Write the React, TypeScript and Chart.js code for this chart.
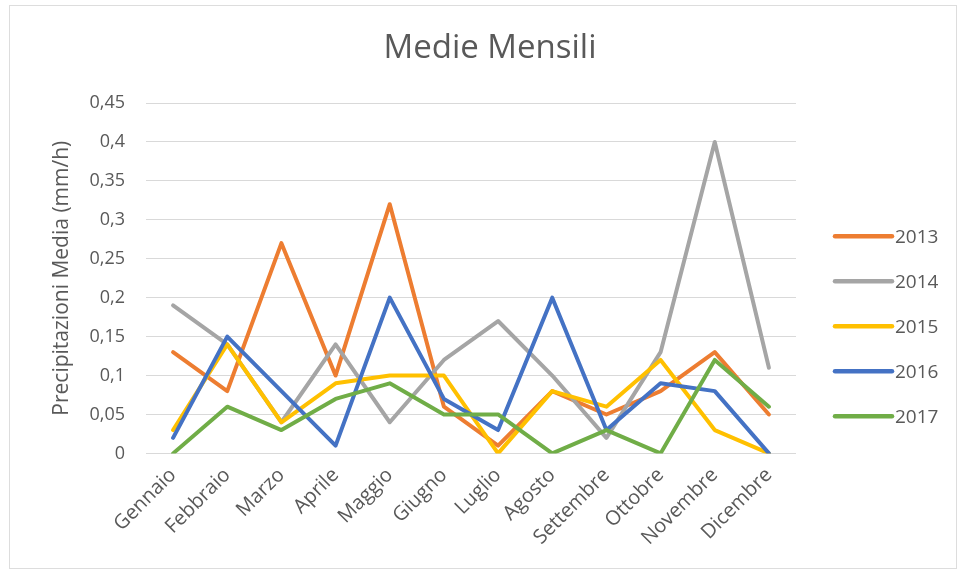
import React, { useEffect, useRef } from "react";
import { Chart, registerables } from "chart.js";

Chart.register(...registerables);

const months = [
  "Gennaio", "Febbraio", "Marzo", "Aprile", "Maggio", "Giugno",
  "Luglio", "Agosto", "Settembre", "Ottobre", "Novembre", "Dicembre",
];

const years = ["2013", "2014", "2015", "2016", "2017"];

const values2013 = [0.13, 0.08, 0.27, 0.10, 0.32, 0.06, 0.01, 0.08, 0.05, 0.08, 0.13, 0.05];
const values2014 = [0.19, 0.14, 0.04, 0.14, 0.04, 0.12, 0.17, 0.10, 0.02, 0.13, 0.40, 0.11];
const values2015 = [0.03, 0.14, 0.04, 0.09, 0.10, 0.10, 0.00, 0.08, 0.06, 0.12, 0.03, 0.00];
const values2016 = [0.02, 0.15, 0.08, 0.01, 0.20, 0.07, 0.03, 0.20, 0.03, 0.09, 0.08, 0.00];
const values2017 = [0.00, 0.06, 0.03, 0.07, 0.09, 0.05, 0.05, 0.00, 0.03, 0.00, 0.12, 0.06];

const seriesValues = [values2013, values2014, values2015, values2016, values2017];
const seriesColors = ["#ED7D31", "#A5A5A5", "#FFC000", "#4472C4", "#70AD47"];

const yMin = 0;
const yMax = 0.45;
const yStep = 0.05;

const titleText = "Medie Mensili";
const yTitleText = "Precipitazioni Media (mm/h)";

const FONT = "'Open Sans', 'Noto Sans', sans-serif";
const TEXT_COLOR = "#595959";

const formatTick = (v: number) => {
  const s = Number(v).toFixed(2).replace(/0+$/, "").replace(/\.$/, "");
  return s.replace(".", ",");
};

const titleAndLegend = {
  id: "titleAndLegend",
  afterDraw(chart: any) {
    const ctx = chart.ctx;
    const area = chart.chartArea;
    ctx.save();
    // title
    ctx.font = `33px ${FONT}`;
    ctx.fillStyle = TEXT_COLOR;
    ctx.textAlign = "center";
    ctx.textBaseline = "middle";
    ctx.fillText(titleText, chart.width / 2 + 10, 49);

    // legend
    const n = chart.data.datasets.length;
    const spacing = 45;
    const lineLen = 57;
    const x0 = area.right + 39;
    const centerY = (area.top + area.bottom) / 2 + 48;
    ctx.font = `19px ${FONT}`;
    ctx.textAlign = "left";
    chart.data.datasets.forEach((ds: any, i: number) => {
      const y = centerY + (i - (n - 1) / 2) * spacing;
      ctx.strokeStyle = ds.borderColor;
      ctx.lineWidth = 4.5;
      ctx.lineCap = "round";
      ctx.beginPath();
      ctx.moveTo(x0, y);
      ctx.lineTo(x0 + lineLen, y);
      ctx.stroke();
      ctx.fillStyle = TEXT_COLOR;
      ctx.fillText(ds.label, x0 + lineLen + 3, y + 1);
    });
    ctx.restore();
  },
};

export default function App() {
  const canvasRef = useRef<HTMLCanvasElement | null>(null);

  useEffect(() => {
    if (!canvasRef.current) return;
    const chart = new Chart(canvasRef.current, {
      type: "line",
      data: {
        labels: months,
        datasets: years.map((y, i) => ({
          label: y,
          data: seriesValues[i],
          borderColor: seriesColors[i],
          backgroundColor: seriesColors[i],
          borderWidth: 4,
          pointRadius: 0,
          pointHoverRadius: 0,
          tension: 0,
          fill: false,
          borderJoinStyle: "round" as const,
          borderCapStyle: "round" as const,
          order: years.length - i,
        })),
      },
      options: {
        responsive: false,
        animation: false,
        devicePixelRatio: 1,
        layout: {
          padding: { left: 20, right: 164, top: 103, bottom: 14 },
        },
        plugins: {
          legend: { display: false },
          tooltip: { enabled: false },
          title: { display: false },
        },
        scales: {
          x: {
            offset: true,
            grid: { display: false, drawTicks: false },
            border: { display: false },
            ticks: {
              color: TEXT_COLOR,
              font: { family: FONT, size: 20 },
              minRotation: 45,
              maxRotation: 45,
              padding: 10,
              autoSkip: false,
            },
          },
          y: {
            min: yMin,
            max: yMax,
            grid: { color: "#D9D9D9", lineWidth: 1, drawTicks: false },
            border: { display: false },
            afterFit: (scale: any) => {
              scale.width = 126;
            },
            ticks: {
              stepSize: yStep,
              color: TEXT_COLOR,
              font: { family: FONT, size: 18 },
              padding: 21,
              callback: (v: any) => formatTick(v),
            },
            title: {
              display: true,
              text: yTitleText,
              color: TEXT_COLOR,
              font: { family: FONT, size: 21 },
              padding: { top: 29, bottom: 6 },
            },
          },
        },
      },
      plugins: [titleAndLegend],
    });
    return () => chart.destroy();
  }, []);

  return (
    <div style={{ position: "fixed", left: 0, top: 0, width: 960, height: 574, background: "#fff" }}>
      <canvas ref={canvasRef} width={960} height={574} style={{ display: "block" }} />
      <div
        style={{
          position: "absolute",
          left: 9,
          top: 5,
          width: 946,
          height: 562,
          border: "1px solid #DDDDDD",
          pointerEvents: "none",
        }}
      />
    </div>
  );
}
